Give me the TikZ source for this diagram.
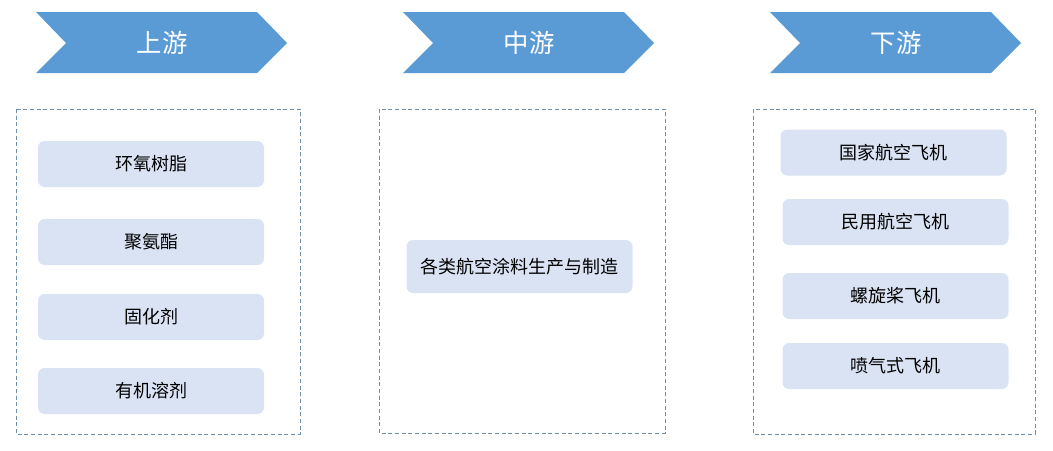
\documentclass[tikz,border=0pt]{standalone}
\usepackage{fontspec}
\setmainfont{Noto Sans CJK SC}
\definecolor{arrowblue}{HTML}{5B9BD5}
\definecolor{boxfill}{HTML}{DAE3F3}
\definecolor{framegray}{HTML}{6F90AA}
\begin{document}
\begin{tikzpicture}[x=0.75pt,y=-0.75pt,
  head/.style={text=white,font=\fontsize{19}{21}\selectfont},
  item/.style={fill=boxfill,rounded corners=5pt,minimum width=169.5pt,minimum height=34.5pt,inner sep=0pt,font=\fontsize{13.5}{15}\selectfont},
  frame/.style={framegray,line width=0.6pt,dash pattern=on 3pt off 2pt}]
\useasboundingbox (0,0) rectangle (1053,450);

% chevrons
\fill[arrowblue] (36,12)--(257,12)--(287,43)--(257,73)--(36,73)--(66,43)--cycle;
\fill[arrowblue] (403,12)--(624,12)--(654,43)--(624,73)--(403,73)--(433,43)--cycle;
\fill[arrowblue] (770,12)--(991,12)--(1021,43)--(991,73)--(770,73)--(800,43)--cycle;
\node[head] (up) at (162,43){上游};
\node[head] (mid) at (529,43){中游};
\node[head] (down) at (896,43){下游};

% frames
\draw[frame] (16,109) rectangle (300,434);
\draw[frame] (379,109) rectangle (665,433);
\draw[frame] (753,109) rectangle (1035,434);

% upstream
\node[item] (u1) at (151,164){环氧树脂};
\node[item] (u2) at (151,242){聚氨酯};
\node[item] (u3) at (151,317){固化剂};
\node[item] (u4) at (151,391){有机溶剂};

% midstream
\node[item,minimum height=39.75pt] (m1) at (519.5,266.5){各类航空涂料生产与制造};

% downstream
\node[item] (d1) at (893.5,152.5){国家航空飞机};
\node[item] (d2) at (895.5,222){民用航空飞机};
\node[item] (d3) at (895.5,296){螺旋桨飞机};
\node[item] (d4) at (895.5,366){喷气式飞机};
\end{tikzpicture}
\end{document}
